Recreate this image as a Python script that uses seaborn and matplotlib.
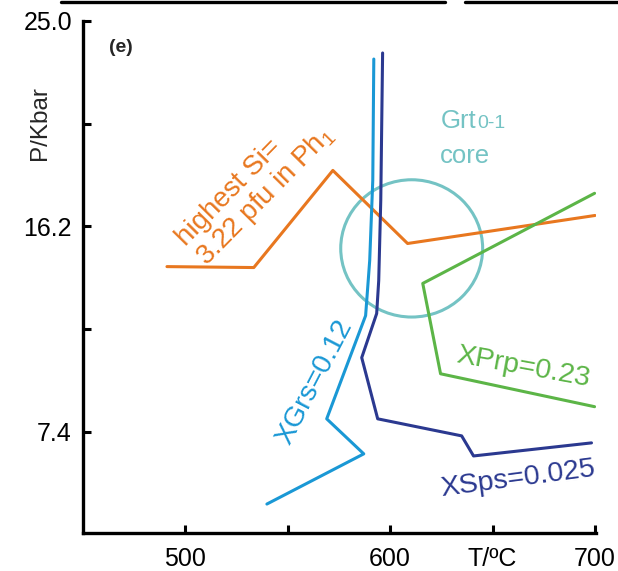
import numpy as np
import pandas as pd
import seaborn as sns
import matplotlib.pyplot as plt
from matplotlib.patches import Ellipse
from matplotlib.lines import Line2D

sns.set_style("ticks", rc={'axes.edgecolor': 'k', 'xtick.direction': 'in',
                           'ytick.direction': 'in'})
plt.rcParams['font.family'] = ['Liberation Sans', 'DejaVu Sans']

# isopleth curves, T (°C) / P (kbar)
si_T = [491.0, 533.4, 572.0, 608.5, 700.0]
si_P = [14.48, 14.44, 18.60, 15.47, 16.67]

grs_T = [592.0, 591.5, 590.0, 588.0, 569.0, 587.1, 539.8]
grs_P = [23.37, 18.18, 14.74, 12.38, 7.96, 6.46, 4.31]

sps_T = [596.3, 595.4, 594.4, 593.4, 586.1, 593.9, 634.9, 640.7, 698.3]
sps_P = [23.63, 17.32, 13.88, 12.47, 10.58, 7.96, 7.23, 6.37, 6.93]

prp_T = [699.8, 615.9, 624.6, 699.8]
prp_P = [17.62, 13.76, 9.89, 8.48]

core_T, core_P = 610.5, 15.26
core_w, core_h = 69.3, 5.88

xticks = [500, 550, 600, 650, 700]
xlabels = ['500', '', '600', 'T/\u00baC', '700']
yticks = [7.4, 11.8, 16.2, 20.6, 25.0]
ylabels = ['7.4', '', '16.2', '', '25.0']

c_si = '#e8771f'
c_grs = '#1a98d5'
c_sps = '#2b3990'
c_prp = '#5cb547'
c_core = '#74c3c4'

fig = plt.figure(figsize=(6.18, 5.71), dpi=100)
ax = fig.add_axes([83/618, 38/571, 513/618, 512/571])

lw = 2.2
for T, P, c in [(si_T, si_P, c_si), (grs_T, grs_P, c_grs),
                (sps_T, sps_P, c_sps), (prp_T, prp_P, c_prp)]:
    df = pd.DataFrame({'T': T, 'P': P})
    sns.lineplot(data=df, x='T', y='P', sort=False, estimator=None,
                 color=c, lw=lw, ax=ax)

ax.add_patch(Ellipse((core_T, core_P), core_w, core_h, fill=False,
                     ec=c_core, lw=lw))

ax.set_xlim(450, 700.5)
ax.set_ylim(3.07, 25.0)
ax.set_xticks(xticks)
ax.set_xticklabels(xlabels)
ax.set_yticks(yticks)
ax.set_yticklabels(ylabels)
ax.tick_params(length=6, width=2.2, labelsize=18, colors='k', pad=8)
ax.tick_params(axis='x', pad=10)
for s in ['left', 'bottom']:
    ax.spines[s].set_linewidth(2.4)
sns.despine(ax=ax)
ax.set_xlabel('')
ax.set_ylabel('P/Kbar', fontsize=17.5)
ax.yaxis.set_label_coords(-0.062, 0.80)

# labels
ax.text(462.5, 23.85, '(e)', fontsize=14, fontweight='bold', va='center')
t = ax.text(624.5, 20.4, 'Grt', color=c_core, fontsize=18.5, va='baseline')
ax.annotate('0-1', xy=(1, 0), xycoords=t, color=c_core, fontsize=14,
            va='bottom', xytext=(1, 1), textcoords='offset points')
ax.text(624.5, 18.9, 'core', color=c_core, fontsize=18.5, va='baseline')

ax.text(534.5, 17.9, 'highest Si=\n3.22 pfu in Ph$\\mathregular{_1}$',
        color=c_si, fontsize=20, rotation=45.5, ha='center', va='center',
        multialignment='left', rotation_mode='anchor', linespacing=1.0)
ax.text(563.2, 9.55, 'XGrs=0.12', color=c_grs, fontsize=20.5, rotation=62.5,
        ha='center', va='center', rotation_mode='anchor')
ax.text(665.1, 10.15, 'XPrp=0.23', color=c_prp, fontsize=20.5, rotation=-10.3,
        ha='center', va='center', rotation_mode='anchor')
ax.text(662.2, 5.39, 'XSps=0.025', color=c_sps, fontsize=20.5, rotation=7.5,
        ha='center', va='center', rotation_mode='anchor')

# edge of the panel above, cut off at the top
yl = 1 - 1.5/571
fig.add_artist(Line2D([61/618, 445/618], [yl, yl], color='k', lw=2.4))
fig.add_artist(Line2D([465/618, 1.0], [yl, yl], color='k', lw=2.4))

fig.savefig('out.png', dpi=100)
